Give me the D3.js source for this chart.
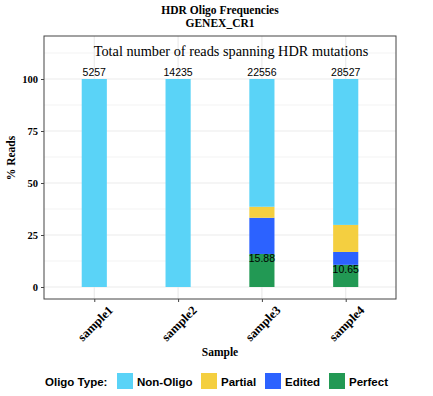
<html>
<script src="https://d3js.org/d3.v7.min.js"></script>
<style>
body{margin:0;background:#fff;}
svg{display:block;}
</style>
<div id="chart"></div>
<script>
const samples = ['sample1', 'sample2', 'sample3', 'sample4'];
const totals = [5257, 14235, 22556, 28527];
const types = ['Perfect', 'Edited', 'Partial', 'Non-Oligo'];
const perfect = [0, 0, 15.88, 10.65];
const edited = [0, 0, 17.4, 6.2];
const partial = [0, 0, 5.3, 13.0];
const nonOligo = [100, 100, 61.42, 70.15];
const legendOrder = ['Non-Oligo', 'Partial', 'Edited', 'Perfect'];
const yTicks = [0, 25, 50, 75, 100];
const yMinor = [12.5, 37.5, 62.5, 87.5, 112.5];

const colors = {'Non-Oligo':'#5ad3f7', 'Partial':'#f4cf40', 'Edited':'#2c62ff', 'Perfect':'#229954'};

const width = 433, height = 396;
const panel = {left:44, right:396, top:36, bottom:299};

const rows = samples.map((s,i)=>({sample:s, total:totals[i],
  'Perfect':perfect[i], 'Edited':edited[i], 'Partial':partial[i], 'Non-Oligo':nonOligo[i]}));

const x = d3.scalePoint().domain(samples).range([panel.left, panel.right]).padding(0.6);
const y = d3.scaleLinear().domain([0,100]).range([287,79]);
const barW = x.step()*0.3;

const svg = d3.select('#chart').append('svg')
  .attr('width', width).attr('height', height);

const serif = 'Liberation Serif, Times New Roman, serif';
const sans = 'Liberation Sans, Arial, sans-serif';

// titles
svg.append('text').attr('x', 220).attr('y', 14).attr('text-anchor','middle')
  .style('font-family', serif).style('font-weight','bold').style('font-size','11.5px')
  .text('HDR Oligo Frequencies');
svg.append('text').attr('x', 220).attr('y', 27).attr('text-anchor','middle')
  .style('font-family', serif).style('font-weight','bold').style('font-size','11.5px')
  .text('GENEX_CR1');

// grid
const grid = svg.append('g');
grid.selectAll('.minor').data(yMinor).enter().append('line')
  .attr('x1', panel.left).attr('x2', panel.right)
  .attr('y1', d=>y(d)).attr('y2', d=>y(d))
  .attr('stroke', '#f3f3f3').attr('stroke-width', 1);
grid.selectAll('.major').data(yTicks).enter().append('line')
  .attr('x1', panel.left).attr('x2', panel.right)
  .attr('y1', d=>y(d)).attr('y2', d=>y(d))
  .attr('stroke', '#ebebeb').attr('stroke-width', 1.2);
grid.selectAll('.vx').data(samples).enter().append('line')
  .attr('x1', d=>x(d)).attr('x2', d=>x(d))
  .attr('y1', panel.top).attr('y2', panel.bottom)
  .attr('stroke', '#ebebeb').attr('stroke-width', 1.2);

// stacked bars
const stack = d3.stack().keys(types)(rows);
svg.append('g').selectAll('g').data(stack).enter().append('g')
  .attr('fill', d=>colors[d.key])
  .selectAll('rect').data(d=>d).enter().append('rect')
  .attr('x', d=>x(d.data.sample)-barW/2)
  .attr('width', barW)
  .attr('y', d=>y(d[1]))
  .attr('height', d=>y(d[0])-y(d[1]));

// perfect labels
svg.append('g').selectAll('text').data(rows.filter(d=>d['Perfect']>0)).enter().append('text')
  .attr('x', d=>x(d.sample)).attr('y', d=>y(d['Perfect'])+8)
  .attr('text-anchor','middle')
  .style('font-family', sans).style('font-size','10.5px').attr('fill','#000')
  .text(d=>d['Perfect'].toFixed(2));

// total labels
svg.append('g').selectAll('text').data(rows).enter().append('text')
  .attr('x', d=>x(d.sample)).attr('y', y(100)-3)
  .attr('text-anchor','middle')
  .style('font-family', sans).style('font-size','10.5px').attr('fill','#000')
  .text(d=>d.total);

svg.append('text').attr('x', 231).attr('y', 56).attr('text-anchor','middle')
  .style('font-family', serif).style('font-size','14.3px')
  .text('Total number of reads spanning HDR mutations');

// panel border
svg.append('rect').attr('x', panel.left).attr('y', panel.top)
  .attr('width', panel.right-panel.left).attr('height', panel.bottom-panel.top)
  .attr('fill','none').attr('stroke','#444').attr('stroke-width',1);

// y axis
const yAxis = svg.append('g').attr('transform', `translate(${panel.left},0)`)
  .call(d3.axisLeft(y).tickValues(yTicks).tickSize(3).tickPadding(3));
yAxis.select('.domain').remove();
yAxis.selectAll('line').attr('stroke','#444');
yAxis.selectAll('text').style('font-family', serif).style('font-weight','bold')
  .style('font-size','10.5px').attr('fill','#000');

// x axis
const xAxis = svg.append('g').attr('transform', `translate(0,${panel.bottom})`)
  .call(d3.axisBottom(x).tickSize(3));
xAxis.select('.domain').remove();
xAxis.selectAll('line').attr('stroke','#444');
xAxis.selectAll('text')
  .attr('text-anchor','end').attr('dy', null).attr('y', null)
  .attr('transform','translate(19,12) rotate(-45)')
  .style('font-family', serif).style('font-weight','bold')
  .style('font-size','12.5px').attr('fill','#000');

// axis titles
svg.append('text').attr('x', 220).attr('y', 356).attr('text-anchor','middle')
  .style('font-family', serif).style('font-weight','bold').style('font-size','11.5px')
  .text('Sample');
svg.append('text').attr('transform','translate(15,158) rotate(-90)').attr('text-anchor','middle')
  .style('font-family', serif).style('font-weight','bold').style('font-size','11.5px')
  .text('% Reads');

// legend
const legend = svg.append('g');
legend.append('text').attr('x', 45).attr('y', 386)
  .style('font-family', sans).style('font-weight','bold').style('font-size','11.5px')
  .text('Oligo Type:');
const legX = [117, 201, 265, 329];
const items = legend.selectAll('.item').data(legendOrder).enter().append('g')
  .attr('transform', (d,i)=>`translate(${legX[i]},373)`);
items.append('rect').attr('width',16).attr('height',16).attr('fill', d=>colors[d]);
items.append('text').attr('x', 20).attr('y', 13)
  .style('font-family', sans).style('font-weight','bold').style('font-size','11.5px')
  .text(d=>d);
</script>
</html>
